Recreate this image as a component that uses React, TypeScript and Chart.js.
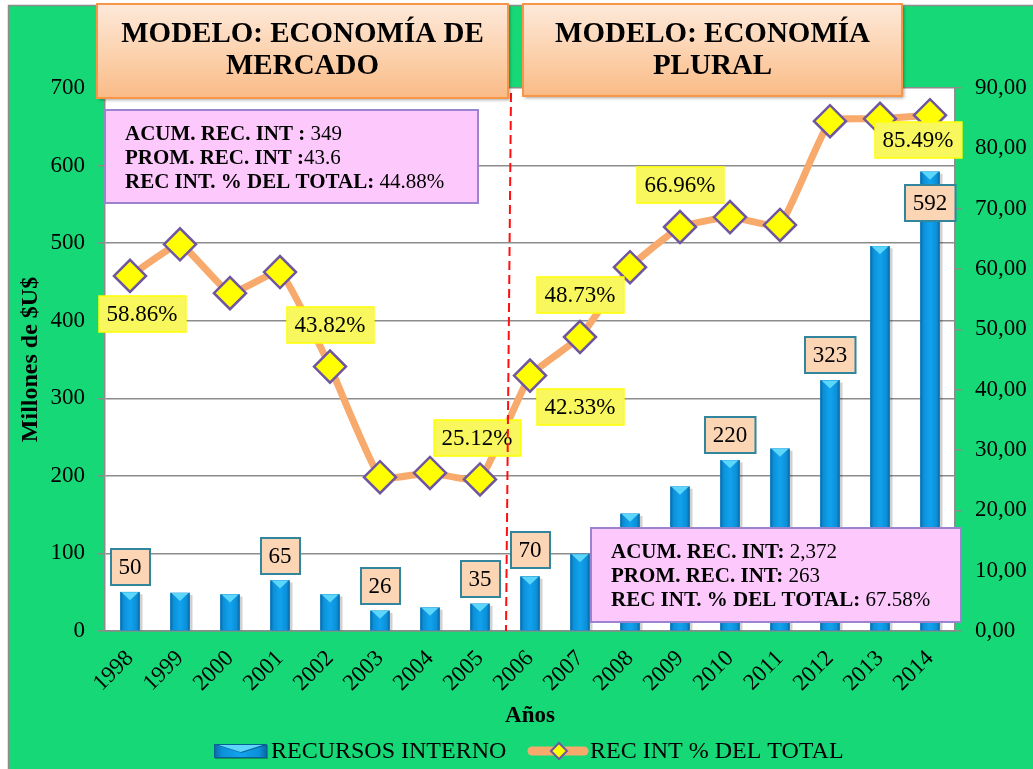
import React, { useEffect, useRef } from 'react';
import { Chart, registerables } from 'chart.js';

Chart.register(...registerables);

// ---------------- DATA ----------------
const years = ['1998', '1999', '2000', '2001', '2002', '2003', '2004', '2005', '2006', '2007', '2008', '2009', '2010', '2011', '2012', '2013', '2014'];
const recursosInternos = [50, 49, 47, 65, 47, 26, 30, 35, 70, 99, 151, 186, 220, 235, 323, 496, 592];
const recIntPct = [58.86, 64.1, 56.0, 59.5, 43.82, 25.5, 26.2, 25.12, 42.33, 48.73, 60.3, 66.96, 68.6, 67.3, 84.5, 84.9, 85.49];
const leftTickValues = [0, 100, 200, 300, 400, 500, 600, 700];
const rightTickValues = [0, 10, 20, 30, 40, 50, 60, 70, 80, 90];
const barLabelYears = ['1998', '2001', '2003', '2005', '2006', '2010', '2012', '2014'];
const pctLabelYears = ['1998', '2002', '2005', '2006', '2007', '2009', '2014'];
const seriesNames = ['RECURSOS INTERNO', 'REC INT % DEL TOTAL'];
const periodTitles = [['MODELO: ECONOMÍA DE', 'MERCADO'], ['MODELO: ECONOMÍA', 'PLURAL']];
const summaryLeft = [['ACUM. REC. INT : ', '349'], ['PROM. REC. INT :', '43.6'], ['REC INT. % DEL TOTAL: ', '44.88%']];
const summaryRight = [['ACUM. REC. INT: ', '2,372'], ['PROM. REC. INT: ', '263'], ['REC INT. % DEL TOTAL: ', '67.58%']];
const xAxisTitle = 'Años';
const yAxisTitle = 'Millones de $U$';

// ---------------- STYLE / LAYOUT ----------------
const SERIF = '"Liberation Serif", "Times New Roman", serif';
const GREEN = '#17d877';
const GRID = '#8c8c8c';
const barLabelDy: Record<string, number> = { '2006': -27, '2014': 31 };
const pctLabelOffset: Record<string, [number, number]> = {
  '1998': [12, 38],
  '2002': [0, -42],
  '2005': [-3, -41],
  '2006': [50, 31],
  '2007': [0, -42],
  '2009': [0, -42],
  '2014': [-12, 25],
};

function drawLabelBox(ctx: CanvasRenderingContext2D, cx: number, cy: number, text: string, fill: string, stroke: string, lw: number) {
  ctx.font = `23px ${SERIF}`;
  const tw = ctx.measureText(text).width;
  const w = tw + 16;
  const h = 36;
  const l = Math.round(cx - w / 2);
  const t = Math.round(cy - h / 2);
  ctx.fillStyle = fill;
  ctx.fillRect(l, t, w, h);
  ctx.strokeStyle = stroke;
  ctx.lineWidth = lw;
  ctx.strokeRect(l, t, w, h);
  ctx.fillStyle = '#000';
  ctx.textAlign = 'center';
  ctx.textBaseline = 'middle';
  ctx.fillText(text, cx, cy + 1);
}

function drawSummary(ctx: CanvasRenderingContext2D, l: number, t: number, w: number, h: number, lines: string[][]) {
  ctx.fillStyle = '#fdc9fd';
  ctx.fillRect(l, t, w, h);
  ctx.strokeStyle = '#9a84d0';
  ctx.lineWidth = 2;
  ctx.strokeRect(l, t, w, h);
  ctx.textAlign = 'left';
  ctx.textBaseline = 'alphabetic';
  ctx.fillStyle = '#000';
  lines.forEach((ln, i) => {
    const y = t + 30 + i * 24;
    ctx.font = `bold 21px ${SERIF}`;
    ctx.fillText(ln[0], l + 20, y);
    const bw = ctx.measureText(ln[0]).width;
    ctx.font = `21px ${SERIF}`;
    ctx.fillText(ln[1], l + 20 + bw, y);
  });
}

function drawTitleBox(ctx: CanvasRenderingContext2D, l: number, t: number, w: number, h: number, lines: string[]) {
  ctx.save();
  ctx.shadowColor = 'rgba(0,0,0,0.35)';
  ctx.shadowOffsetX = 2;
  ctx.shadowOffsetY = 2;
  ctx.shadowBlur = 3;
  const g = ctx.createLinearGradient(0, t, 0, t + h);
  g.addColorStop(0, '#fde9da');
  g.addColorStop(0.5, '#fcd3b0');
  g.addColorStop(1, '#fabb86');
  ctx.fillStyle = g;
  ctx.fillRect(l, t, w, h);
  ctx.restore();
  ctx.strokeStyle = '#f79646';
  ctx.lineWidth = 2;
  ctx.strokeRect(l, t, w, h);
  ctx.fillStyle = '#000';
  ctx.font = `bold 29px ${SERIF}`;
  ctx.textAlign = 'center';
  ctx.textBaseline = 'middle';
  lines.forEach((s, i) => ctx.fillText(s, l + w / 2, t + 31 + i * 32));
}

function paintBar(ctx: CanvasRenderingContext2D, l: number, top: number, w: number, bottom: number) {
  const r = l + w;
  const x = l + w / 2;
  const g = ctx.createLinearGradient(l, 0, r, 0);
  g.addColorStop(0, '#0a66a3');
  g.addColorStop(0.15, '#0b90d8');
  g.addColorStop(0.5, '#12a3ee');
  g.addColorStop(0.85, '#0b90d8');
  g.addColorStop(1, '#0a66a3');
  ctx.fillStyle = g;
  ctx.fillRect(l, top, w, bottom - top);
  const bh = Math.min(8, bottom - top);
  ctx.fillStyle = '#5cd6fa';
  ctx.beginPath();
  ctx.moveTo(l + 1, top);
  ctx.lineTo(r - 1, top);
  ctx.lineTo(x, top + bh);
  ctx.closePath();
  ctx.fill();
}

const decorPlugin = {
  id: 'decor',
  beforeDraw(chart: any) {
    const { ctx, width, height, chartArea: a } = chart;
    ctx.save();
    ctx.fillStyle = '#ffffff';
    ctx.fillRect(0, 0, width, height);
    ctx.fillStyle = GREEN;
    ctx.fillRect(8, 5, width - 8, height - 5);
    ctx.strokeStyle = '#8c8c8c';
    ctx.lineWidth = 1.5;
    ctx.beginPath();
    ctx.moveTo(8.5, height);
    ctx.lineTo(8.5, 5.5);
    ctx.lineTo(width, 5.5);
    ctx.stroke();
    ctx.fillStyle = '#ffffff';
    ctx.fillRect(a.left, a.top, a.right - a.left, a.bottom - a.top);
    ctx.restore();
  },
  beforeDatasetDraw(chart: any, args: any) {
    if (args.index !== 0) return;
    const ctx = chart.ctx;
    ctx.save();
    ctx.fillStyle = 'rgba(0,0,0,0.18)';
    chart.getDatasetMeta(0).data.forEach((bar: any) => {
      const p = bar.getProps(['x', 'y', 'base', 'width'], true);
      ctx.fillRect(p.x - p.width / 2 + 3, p.y + 2, p.width, p.base - p.y - 2);
    });
    ctx.restore();
  },
  afterDatasetDraw(chart: any, args: any) {
    if (args.index !== 0) return;
    const ctx = chart.ctx;
    ctx.save();
    chart.getDatasetMeta(0).data.forEach((bar: any) => {
      const p = bar.getProps(['x', 'y', 'base', 'width'], true);
      paintBar(ctx, p.x - p.width / 2, p.y, p.width, p.base);
    });
    ctx.restore();
  },
  afterDraw(chart: any) {
    const { ctx, chartArea: a } = chart;
    const xs = chart.scales.x;
    ctx.save();

    // bar value labels
    const barMeta = chart.getDatasetMeta(0);
    barLabelYears.forEach((yr) => {
      const i = years.indexOf(yr);
      const p = barMeta.data[i].getProps(['x', 'y'], true);
      const dy = barLabelDy[yr] ?? -25;
      drawLabelBox(ctx, p.x, p.y + dy, String(recursosInternos[i]), '#fcd5b5', '#31859c', 2);
    });

    // percentage labels
    const lineMeta = chart.getDatasetMeta(1);
    pctLabelYears.forEach((yr) => {
      const i = years.indexOf(yr);
      const p = lineMeta.data[i].getProps(['x', 'y'], true);
      const off = pctLabelOffset[yr];
      drawLabelBox(ctx, p.x + off[0], p.y + off[1], recIntPct[i].toFixed(2) + '%', '#f8f85e', '#ffff00', 1.5);
    });

    // red dashed separator between 2005 and 2006
    const sx = (xs.getPixelForValue(years.indexOf('2005')) + xs.getPixelForValue(years.indexOf('2006'))) / 2;
    ctx.strokeStyle = '#ff1010';
    ctx.lineWidth = 2;
    ctx.setLineDash([9, 5]);
    ctx.beginPath();
    ctx.moveTo(sx + 6, a.top + 5);
    ctx.lineTo(sx + 1, a.bottom);
    ctx.stroke();
    ctx.setLineDash([]);

    // summary boxes
    drawSummary(ctx, 105, 110, 373, 93, summaryLeft);
    drawSummary(ctx, 591, 528, 370, 94, summaryRight);

    // period title boxes
    drawTitleBox(ctx, 97, 4, 411, 94, periodTitles[0]);
    drawTitleBox(ctx, 523, 4, 379, 92, periodTitles[1]);

    // axis titles
    ctx.fillStyle = '#000';
    ctx.font = `bold 23px ${SERIF}`;
    ctx.textAlign = 'center';
    ctx.textBaseline = 'middle';
    ctx.fillText(xAxisTitle, (a.left + a.right) / 2, 716);
    ctx.save();
    ctx.translate(31, (a.top + a.bottom) / 2);
    ctx.rotate(-Math.PI / 2);
    ctx.font = `bold 24px ${SERIF}`;
    ctx.fillText(yAxisTitle, 0, 0);
    ctx.restore();

    // legend
    const ly = 751;
    ctx.save();
    ctx.shadowColor = 'rgba(0,0,0,0.3)';
    ctx.shadowOffsetX = 1;
    ctx.shadowOffsetY = 1;
    paintBar(ctx, 214, ly - 7, 53, ly + 7);
    ctx.restore();
    ctx.strokeStyle = '#0a5f98';
    ctx.lineWidth = 1;
    ctx.strokeRect(214.5, ly - 6.5, 52, 13);
    ctx.fillStyle = '#000';
    ctx.font = `24px ${SERIF}`;
    ctx.textAlign = 'left';
    ctx.textBaseline = 'middle';
    ctx.fillText(seriesNames[0], 271, ly + 1);

    ctx.strokeStyle = '#f8a96c';
    ctx.lineWidth = 9;
    ctx.lineCap = 'round';
    ctx.beginPath();
    ctx.moveTo(532, ly);
    ctx.lineTo(584, ly);
    ctx.stroke();
    ctx.fillStyle = '#ffff00';
    ctx.strokeStyle = '#6f56a0';
    ctx.lineWidth = 2;
    ctx.beginPath();
    ctx.moveTo(559 - 8, ly);
    ctx.lineTo(559, ly - 8);
    ctx.lineTo(559 + 8, ly);
    ctx.lineTo(559, ly + 8);
    ctx.closePath();
    ctx.fill();
    ctx.stroke();
    ctx.fillStyle = '#000';
    ctx.fillText(seriesNames[1], 590, ly + 1);

    ctx.restore();
  },
};

export default function App() {
  const ref = useRef<HTMLCanvasElement>(null);

  useEffect(() => {
    document.body.style.margin = '0';
    const chart = new Chart(ref.current as HTMLCanvasElement, {
      type: 'bar',
      data: {
        labels: years,
        datasets: [
          {
            type: 'bar',
            label: seriesNames[0],
            data: recursosInternos,
            yAxisID: 'y',
            backgroundColor: '#0c8dd4',
            barThickness: 19,
            order: 1,
          } as any,
          {
            type: 'line',
            label: seriesNames[1],
            data: recIntPct,
            yAxisID: 'y1',
            borderColor: '#f8a96c',
            borderWidth: 7,
            tension: 0.12,
            borderJoinStyle: 'round',
            borderCapStyle: 'round',
            pointStyle: 'rectRot',
            pointRadius: 16,
            pointBackgroundColor: '#ffff00',
            pointBorderColor: '#6f56a0',
            pointBorderWidth: 2.5,
            order: 0,
          } as any,
        ],
      },
      options: {
        responsive: false,
        devicePixelRatio: 1,
        animation: false,
        layout: { padding: { top: 88, left: 0, right: 0, bottom: 0 } },
        plugins: {
          legend: { display: false },
          tooltip: { enabled: false },
          title: { display: false },
        },
        scales: {
          x: {
            type: 'category',
            grid: { display: true, drawOnChartArea: false, drawTicks: false, color: GRID },
            border: { display: true, color: GRID, width: 1.5 },
            ticks: {
              color: '#000',
              font: { family: SERIF, size: 23 },
              maxRotation: 45,
              minRotation: 45,
              padding: 14,
              autoSkip: false,
            },
            afterFit: (s: any) => { s.height = 138; },
          },
          y: {
            position: 'left',
            min: 0,
            max: 700,
            afterBuildTicks: (s: any) => { s.ticks = leftTickValues.map((v) => ({ value: v })); },
            grid: { color: GRID, lineWidth: 1.5, tickLength: 7 },
            border: { display: true, color: GRID, width: 1.5 },
            ticks: {
              color: '#000',
              font: { family: SERIF, size: 23 },
              padding: 13,
            },
            afterFit: (s: any) => { s.width = 105; },
          },
          y1: {
            position: 'right',
            min: 0,
            max: 90,
            afterBuildTicks: (s: any) => { s.ticks = rightTickValues.map((v) => ({ value: v })); },
            grid: { drawOnChartArea: false, color: GRID, lineWidth: 1.5, tickLength: 7 },
            border: { display: true, color: GRID, width: 1.5 },
            ticks: {
              color: '#000',
              font: { family: SERIF, size: 23 },
              padding: 13,
              callback: (v: any) => Number(v).toFixed(2).replace('.', ','),
            },
            afterFit: (s: any) => { s.width = 78; },
          },
        },
      },
      plugins: [decorPlugin],
    });
    return () => chart.destroy();
  }, []);

  return (
    <div style={{ width: 1033, height: 769, overflow: 'hidden' }}>
      <canvas ref={ref} width={1033} height={769} style={{ display: 'block' }} />
    </div>
  );
}
